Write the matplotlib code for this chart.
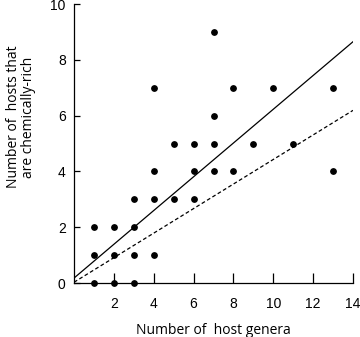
import matplotlib
matplotlib.use("Agg")
from matplotlib import pyplot as plt
import numpy as np

# Data
host_genera = [1, 1, 1, 2, 2, 2, 3, 3, 3, 3, 4, 4, 4, 4, 5, 5, 6, 6, 6,
               7, 7, 7, 7, 8, 8, 9, 10, 11, 13, 13]
chem_rich = [0, 1, 2, 0, 1, 2, 0, 1, 2, 3, 1, 3, 4, 7, 3, 5, 3, 4, 5,
             4, 5, 6, 9, 4, 7, 5, 7, 5, 4, 7]

# fitted lines (intercept, slope)
fit_solid = (0.18, 0.605)
fit_dashed = (0.03, 0.44)

x_ticks = [2, 4, 6, 8, 10, 12, 14]
y_ticks = [0, 2, 4, 6, 8, 10]

plt.rcParams['font.family'] = ['Liberation Sans', 'DejaVu Sans']

fig = plt.figure(figsize=(3.6, 3.37), dpi=100)
ax = fig.add_axes([0.2056, 0.160, 0.775, 0.828])

ax.scatter(host_genera, chem_rich, s=15, color="k", zorder=3, clip_on=False)

xs = np.array([0, 14])
ax.plot(xs, fit_solid[0] + fit_solid[1] * xs, color="k", lw=0.9)
ax.plot(xs, fit_dashed[0] + fit_dashed[1] * xs, color="k", lw=0.9, ls=(0, (3, 2)))

ax.set_xlim(0, 14)
ax.set_ylim(0, 10)
ax.set_xticks(x_ticks)
ax.set_yticks(y_ticks)
ax.tick_params(axis="x", direction="in", length=7, width=0.9, pad=10, labelsize=10)
ax.tick_params(axis="y", direction="in", length=4, width=0.9, pad=6, labelsize=10)
for s in ["top", "right"]:
    ax.spines[s].set_visible(False)
for s in ["left", "bottom"]:
    ax.spines[s].set_linewidth(0.9)

lab_font = ["Open Sans", "DejaVu Sans"]
ax.set_xlabel("Number of  host genera", family=lab_font, fontsize=10, labelpad=9)
ax.set_ylabel("Number of  hosts that\nare chemically-rich", family=lab_font,
              fontsize=10, linespacing=1.05)
ax.yaxis.set_label_coords(-0.135, 0.595)

fig.savefig("out.png", dpi=100)
